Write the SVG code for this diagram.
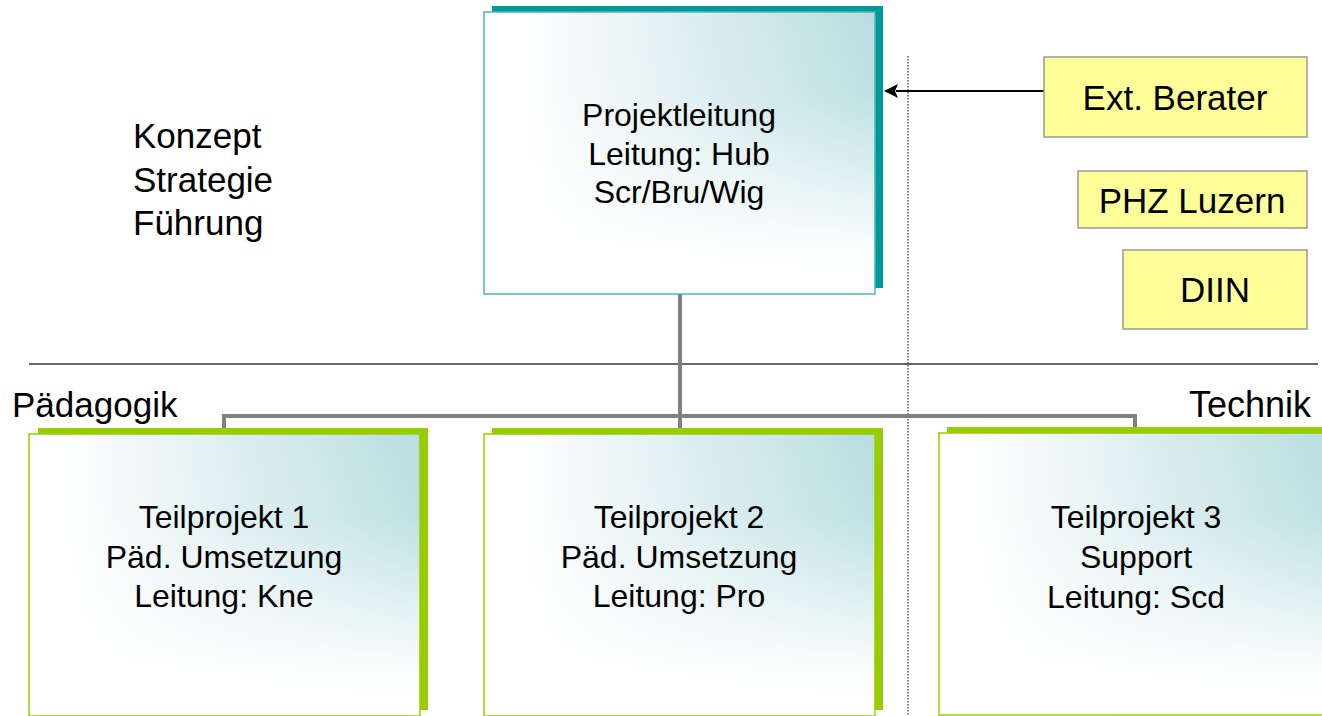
<svg xmlns="http://www.w3.org/2000/svg" width="1322" height="716" viewBox="0 0 1322 716">
  <defs>
    <linearGradient id="gh" x1="0" y1="0" x2="1" y2="0">
      <stop offset="0" stop-color="#ffffff"/>
      <stop offset="0.12" stop-color="#fdfefe"/>
      <stop offset="0.55" stop-color="#dcedef"/>
      <stop offset="1" stop-color="#b8dee0"/>
    </linearGradient>
    <linearGradient id="gv" x1="0" y1="0" x2="0" y2="1">
      <stop offset="0" stop-color="#ffffff" stop-opacity="0"/>
      <stop offset="0.3" stop-color="#ffffff" stop-opacity="0.1"/>
      <stop offset="0.85" stop-color="#ffffff" stop-opacity="0.95"/>
      <stop offset="1" stop-color="#ffffff" stop-opacity="1"/>
    </linearGradient>
  </defs>
  <style>
    text { font-family: "Liberation Sans", Arial, sans-serif; fill: #000; }
    .bt { font-size: 32px; text-anchor: middle; }
    .lt { font-size: 35px; }
    .yt { font-size: 35px; text-anchor: middle; }
    .tshadow { fill: #009999; }
    .gshadow { fill: #99cc00; }
    .tfront { stroke: #4db8b8; stroke-width: 1.5; }
    .gfront { stroke: #99cc00; stroke-width: 1.5; }
    .ybox { fill: #ffff99; stroke: #999999; stroke-width: 1.5; }
    .conn { stroke: #808080; stroke-width: 4; fill: none; }
  </style>
  <rect width="1322" height="716" fill="#ffffff"/>

  <!-- separators -->
  <line x1="29" y1="364" x2="1318" y2="364" stroke="#333333" stroke-width="1.5"/>
  <line x1="908" y1="56" x2="908" y2="716" stroke="#000" stroke-width="1" stroke-dasharray="1.5 1.5"/>

  <!-- labels -->
  <g id="labels">
    <text class="lt" x="133" y="148">Konzept</text>
    <text class="lt" x="133" y="192">Strategie</text>
    <text class="lt" x="133" y="235">Führung</text>
    <text class="lt" x="12" y="417">Pädagogik</text>
    <text class="lt" x="1311" y="417" text-anchor="end" style="font-size:36px">Technik</text>
  </g>

  <!-- connectors -->
  <g id="connectors">
    <path class="conn" d="M680,294 V428 M224,428 V416 H1135 V428"/>
    <line x1="1044" y1="91" x2="896" y2="91" stroke="#000" stroke-width="2"/>
    <path d="M884,91 L898,84 L895,91 L898,98 Z" fill="#000"/>
  </g>

  <!-- top node -->
  <g id="projektleitung">
    <rect class="tshadow" x="492" y="6" width="391" height="282"/>
    <rect x="484" y="12" width="391" height="282" fill="url(#gh)"/>
    <rect class="tfront" x="484" y="12" width="391" height="282" fill="url(#gv)"/>
    <text class="bt" x="679" y="126">Projektleitung</text>
    <text class="bt" x="679" y="165">Leitung: Hub</text>
    <text class="bt" x="679" y="203">Scr/Bru/Wig</text>
  </g>

  <g id="teilprojekt1">
    <rect class="gshadow" x="38" y="428" width="390" height="282"/>
    <rect x="29" y="434" width="391" height="282" fill="url(#gh)"/>
    <rect class="gfront" x="29" y="434" width="391" height="282" fill="url(#gv)"/>
    <text class="bt" x="224" y="528">Teilprojekt 1</text>
    <text class="bt" x="224" y="568">Päd. Umsetzung</text>
    <text class="bt" x="224" y="607">Leitung: Kne</text>
  </g>

  <g id="teilprojekt2">
    <rect class="gshadow" x="492" y="428" width="391" height="282"/>
    <rect x="484" y="434" width="391" height="282" fill="url(#gh)"/>
    <rect class="gfront" x="484" y="434" width="391" height="282" fill="url(#gv)"/>
    <text class="bt" x="679" y="528">Teilprojekt 2</text>
    <text class="bt" x="679" y="568">Päd. Umsetzung</text>
    <text class="bt" x="679" y="607">Leitung: Pro</text>
  </g>

  <g id="teilprojekt3">
    <rect class="gshadow" x="947" y="427" width="391" height="282"/>
    <rect x="939" y="433" width="391" height="282" fill="url(#gh)"/>
    <rect class="gfront" x="939" y="433" width="391" height="282" fill="url(#gv)"/>
    <text class="bt" x="1136" y="528">Teilprojekt 3</text>
    <text class="bt" x="1136" y="568">Support</text>
    <text class="bt" x="1136" y="608">Leitung: Scd</text>
  </g>

  <g id="ext-berater">
    <rect class="ybox" x="1044" y="57" width="263" height="80"/>
    <text class="yt" x="1175" y="110">Ext. Berater</text>
  </g>
  <g id="phz-luzern">
    <rect class="ybox" x="1078" y="171" width="229" height="57"/>
    <text class="yt" x="1192" y="213">PHZ Luzern</text>
  </g>
  <g id="diin">
    <rect class="ybox" x="1123" y="250" width="184" height="79"/>
    <text class="yt" x="1215" y="302">DIIN</text>
  </g>
</svg>
